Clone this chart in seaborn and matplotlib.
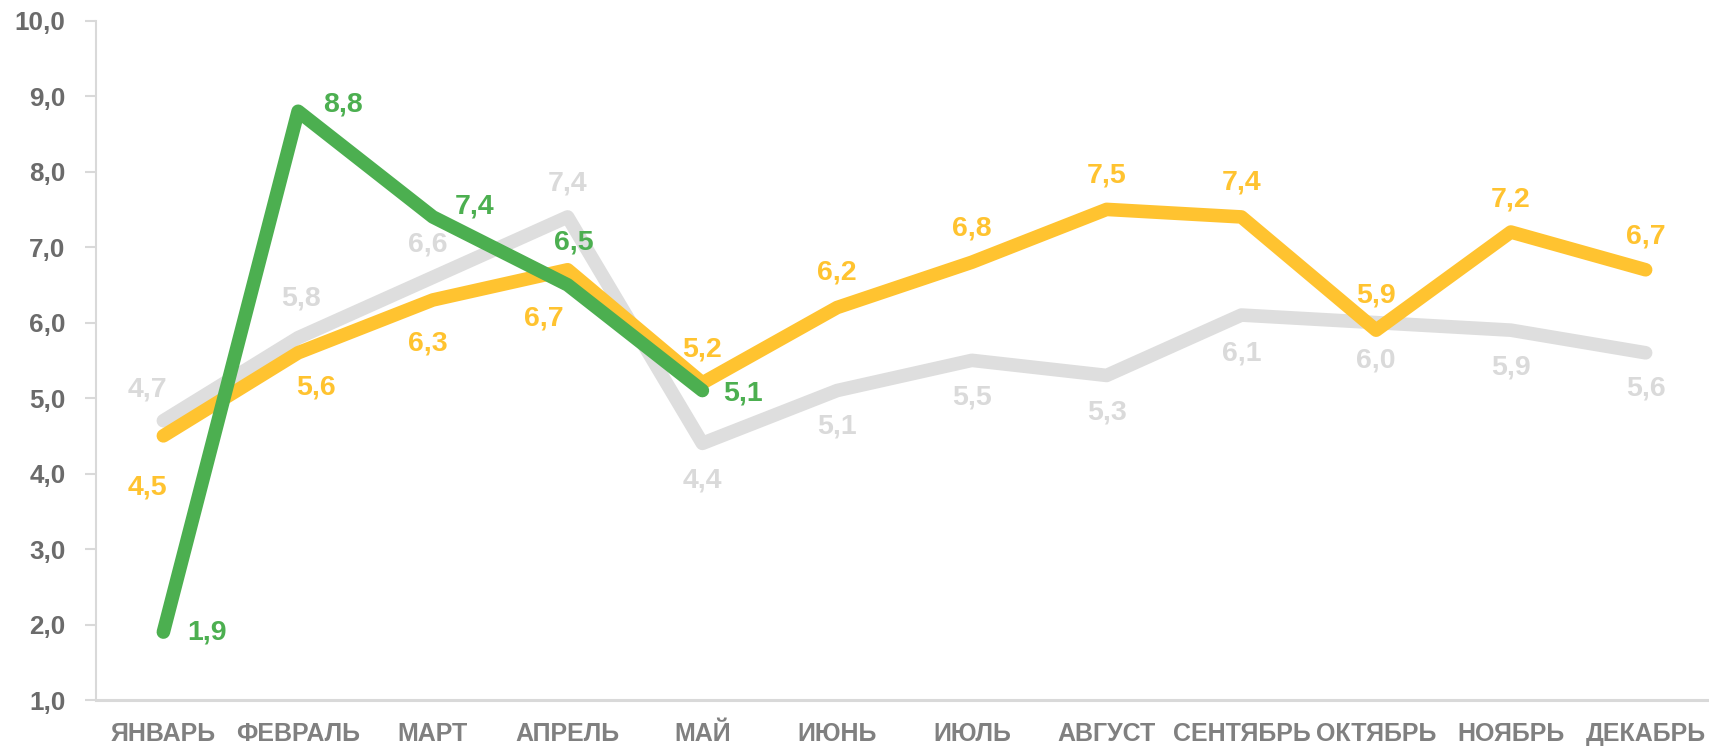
import numpy as np
import pandas as pd
import matplotlib
matplotlib.use("Agg")
import matplotlib.pyplot as plt
import seaborn as sns

months = ["ЯНВАРЬ", "ФЕВРАЛЬ", "МАРТ", "АПРЕЛЬ", "МАЙ", "ИЮНЬ",
          "ИЮЛЬ", "АВГУСТ", "СЕНТЯБРЬ", "ОКТЯБРЬ", "НОЯБРЬ", "ДЕКАБРЬ"]
grey_vals = [4.7, 5.8, 6.6, 7.4, 4.4, 5.1, 5.5, 5.3, 6.1, 6.0, 5.9, 5.6]
yellow_vals = [4.5, 5.6, 6.3, 6.7, 5.2, 6.2, 6.8, 7.5, 7.4, 5.9, 7.2, 6.7]
green_vals = [1.9, 8.8, 7.4, 6.5, 5.1, np.nan, np.nan, np.nan, np.nan, np.nan, np.nan, np.nan]
y_ticks = [1, 2, 3, 4, 5, 6, 7, 8, 9, 10]

# label offsets (pixels, +y = up) for each point
grey_off = [(-16, 31), (3, 39), (-5, 33), (0, 33), (0, -37), (0, -36), (0, -37),
            (0, -37), (0, -38), (0, -38), (0, -37), (0, -36)]
yellow_off = [(-16, -52), (18, -35), (-5, -44), (-24, -49), (0, 33), (0, 35), (0, 34),
              (0, 34), (0, 34), (0, 35), (0, 33), (0, 33)]
green_off = [(44, 0), (45, 7), (42, 10), (6, 42), (41, -3)]

GREY = "#DEDEDE"
YELLOW = "#FFC330"
GREEN = "#4CAF50"

df = pd.DataFrame({"month": months, "grey": grey_vals, "yellow": yellow_vals, "green": green_vals})

sns.set_style("white")
plt.rcParams["font.family"] = ["Liberation Sans", "DejaVu Sans"]
plt.rcParams["font.weight"] = "bold"

fig = plt.figure(figsize=(17.09, 7.46), dpi=100)
ax = fig.add_axes([96 / 1709, 46 / 746, 1617 / 1709, 679.3 / 746])

lw = 9.8
sns.lineplot(data=df, x="month", y="grey", color=GREY, lw=lw, ax=ax, zorder=1,
             solid_capstyle="round", solid_joinstyle="round")
sns.lineplot(data=df, x="month", y="yellow", color=YELLOW, lw=lw, ax=ax, zorder=2,
             solid_capstyle="round", solid_joinstyle="round")
sns.lineplot(data=df.dropna(), x="month", y="green", color=GREEN, lw=lw, ax=ax, zorder=3,
             solid_capstyle="round", solid_joinstyle="round")

def put_labels(vals, offs, color, z):
    for i, (v, o) in enumerate(zip(vals, offs)):
        ax.annotate(f"{v:.1f}".replace(".", ","), xy=(i, v), xytext=o,
                    textcoords="offset pixels", ha="center", va="center",
                    fontsize=20.5, fontweight="bold", color=color, zorder=z)

put_labels(grey_vals, grey_off, "#DADADA", 4)
put_labels(yellow_vals, yellow_off, YELLOW, 5)
put_labels(green_vals[:5], green_off, GREEN, 6)

ax.set_xlim(-0.5, 11.5)
ax.set_ylim(1, 10)
ax.set_yticks(y_ticks)
ax.set_yticklabels([f"{t:.1f}".replace(".", ",") for t in y_ticks])
ax.set_xlabel("")
ax.set_ylabel("")

for s in ["top", "right"]:
    ax.spines[s].set_visible(False)
ax.spines["left"].set_color("#D9D9D9")
ax.spines["left"].set_linewidth(1.5)
ax.spines["bottom"].set_color("#D9D9D9")
ax.spines["bottom"].set_linewidth(2.2)

ax.tick_params(axis="y", length=8, width=1.5, color="#D9D9D9", pad=14,
               labelsize=18.7, labelcolor="#6B6B6B", left=True)
ax.tick_params(axis="x", length=0, pad=16, labelsize=18, labelcolor="#808080")
for t in ax.get_xticklabels() + ax.get_yticklabels():
    t.set_fontweight("bold")

fig.savefig("out.png", dpi=100)
